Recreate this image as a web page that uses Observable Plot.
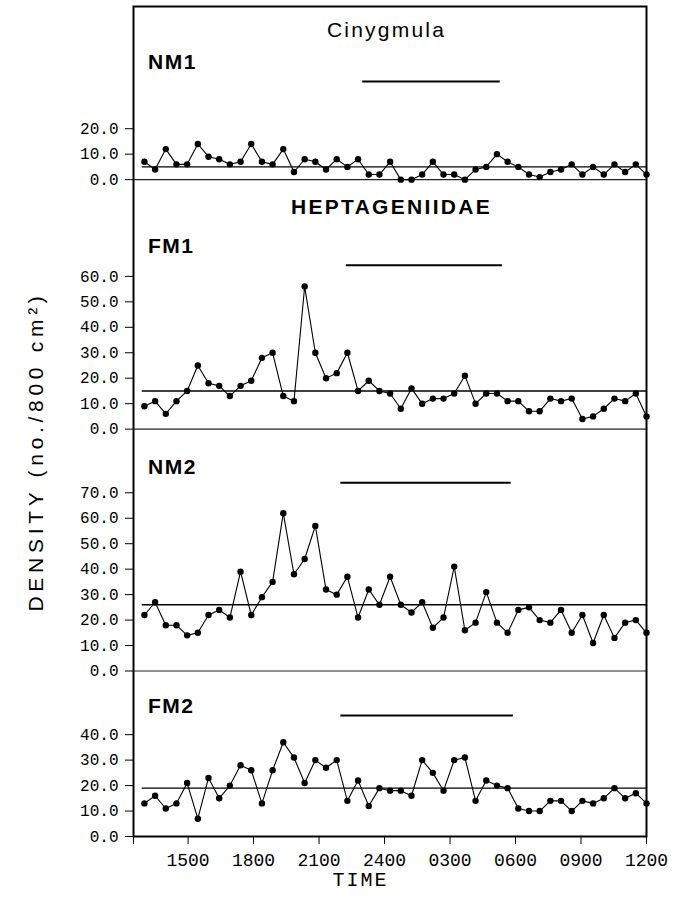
<!DOCTYPE html>
<html><head><meta charset="utf-8">
<script src="https://cdn.jsdelivr.net/npm/d3@7"></script>
<script src="https://cdn.jsdelivr.net/npm/@observablehq/plot@0.6"></script>
<style>html,body{margin:0;padding:0;background:#fff;}</style>
</head><body><div id="chart"></div>
<script>
// ---- data ----
const panelNames = ["NM1", "FM1", "NM2", "FM2"];
const groupTitles = ["Cinygmula", "HEPTAGENIIDAE"];
const yTitle = "DENSITY (no./800 cm²)";
const xTitle = "TIME";

const nm1 = [7,4,12,6,6,14,9,8,6,7,14,7,6,12,3,8,7,4,8,5,8,2,2,7,0,0,2,7,2,2,0,4,5,10,7,5,2,1,3,4,6,2,5,2,6,3,6,2];
const fm1 = [9,11,6,11,15,25,18,17,13,17,19,28,30,13,11,56,30,20,22,30,15,19,15,14,8,16,10,12,12,14,21,10,14,14,11,11,7,7,12,11,12,4,5,8,12,11,14,5];
const nm2 = [22,27,18,18,14,15,22,24,21,39,22,29,35,62,38,44,57,32,30,37,21,32,26,37,26,23,27,17,21,41,16,19,31,19,15,24,25,20,19,24,15,22,11,22,13,19,20,15];
const fm2 = [13,16,11,13,21,7,23,15,20,28,26,13,26,37,31,21,30,27,30,14,22,12,19,18,18,16,30,25,18,30,31,14,22,20,19,11,10,10,14,14,10,14,13,15,19,15,17,13];

const means = [5, 15, 26, 19];
const nightStart = [23.0, 22.25, 22.0, 22.0];
const nightEnd = [29.3, 29.4, 29.8, 29.9];
const yTickValues = [
  [0, 10, 20],
  [0, 10, 20, 30, 40, 50, 60],
  [0, 10, 20, 30, 40, 50, 60, 70],
  [0, 10, 20, 30, 40]
];
const xTickHours = [15, 18, 21, 24, 27, 30, 33, 36];
const xTickLabels = ["1500", "1800", "2100", "2400", "0300", "0600", "0900", "1200"];
const firstSample = 13, lastSample = 36;

// ---- layout (stacked panels on one y scale) ----
const offsets = [258, 160, 65, 0];
const barLevels = [38.5, 64.4, 73.9, 47.5];
const labelBaselines = [68.5, 252, 473, 712];

const series = [nm1, fm1, nm2, fm2];
const n = nm1.length;
const times = d3.range(n).map(i => firstSample + i * (lastSample - firstSample) / (n - 1));
const points = series.flatMap((vals, p) => vals.map((v, i) => ({panel: panelNames[p], t: times[i], y: offsets[p] + v})));

const yTickMap = new Map();
yTickValues.forEach((vals, p) => vals.forEach(v => yTickMap.set(offsets[p] + v, v.toFixed(1))));
const xTickMap = new Map(xTickHours.map((h, i) => [h, xTickLabels[i]]));

const meanRows = means.map((m, i) => ({y: offsets[i] + m}));
const barRows = nightStart.map((s, i) => ({x1: s, x2: nightEnd[i], y: offsets[i] + barLevels[i]}));
const labelRows = panelNames.map((name, i) => ({name, dy: labelBaselines[i] - 6}));

const mono = "'Liberation Mono', 'DejaVu Sans Mono', monospace";
const sans = "'Liberation Sans', Arial, Helvetica, sans-serif";

const marks = [
  Plot.frame({stroke: "black", strokeWidth: 2}),
  Plot.ruleY(offsets.slice(0, 3), {stroke: "#222", strokeWidth: 1.2}),
  Plot.ruleY(meanRows, {y: "y", x1: 12.9, x2: 36, stroke: "black", strokeWidth: 1.4}),
  Plot.ruleY(barRows, {y: "y", x1: "x1", x2: "x2", stroke: "black", strokeWidth: 2}),
  Plot.line(points, {x: "t", y: "y", z: "panel", stroke: "black", strokeWidth: 1.1}),
  Plot.dot(points, {x: "t", y: "y", r: 3.2, fill: "black", stroke: "none"}),
  Plot.axisY([...yTickMap.keys()], {anchor: "left", tickSize: 8, tickPadding: 7, tickFormat: d => yTickMap.get(d), fontSize: 16, fontFamily: mono, label: null, stroke: "black"}),
  Plot.axisX([12.5, ...xTickHours], {anchor: "bottom", tickSize: 8, tickPadding: 9, tickFormat: d => xTickMap.get(d) ?? "", fontSize: 18, fontFamily: mono, label: null}),
  Plot.text([groupTitles[0]], {frameAnchor: "top-left", dx: 386 - 133, dy: 36.5 - 6, textAnchor: "middle", lineAnchor: "bottom", fontSize: 21, fontFamily: sans}),
  Plot.text([groupTitles[1]], {frameAnchor: "top-left", dx: 391 - 133, dy: 213 - 6, textAnchor: "middle", lineAnchor: "bottom", fontSize: 21, fontWeight: "bold", fontFamily: sans}),
  ...labelRows.map(r => Plot.text([r.name], {frameAnchor: "top-left", dx: 14.5, dy: r.dy, textAnchor: "start", lineAnchor: "bottom", fontSize: 21, fontWeight: "bold", fontFamily: sans})),
  Plot.text([yTitle], {frameAnchor: "left", dx: 36 - 133, dy: 451 - 421, rotate: -90, textAnchor: "middle", lineAnchor: "middle", fontSize: 21, fontFamily: sans}),
  Plot.text([xTitle], {frameAnchor: "bottom", dx: 360 - 389.5, dy: 885 - 836, textAnchor: "middle", lineAnchor: "bottom", fontSize: 20, fontFamily: mono})
];

const chart = Plot.plot({
  width: 674, height: 901,
  marginLeft: 133, marginRight: 28, marginTop: 6, marginBottom: 65,
  x: {domain: [12.5, 36]},
  y: {domain: [0, 326]},
  style: {background: "#fff", color: "black"},
  marks
});
const spacing = new Map([
  [groupTitles[0], 2.2], [groupTitles[1], 2.3],
  [yTitle, 4.7], [xTitle, 2],
  ...panelNames.map(p => [p, 1.5])
]);
d3.select(chart).selectAll("text").each(function() {
  const s = spacing.get(this.textContent);
  if (s != null) this.setAttribute("letter-spacing", s);
  if (this.textContent === yTitle) this.setAttribute("font-weight", "300");
});
document.getElementById("chart").appendChild(chart);
</script>
</body></html>
